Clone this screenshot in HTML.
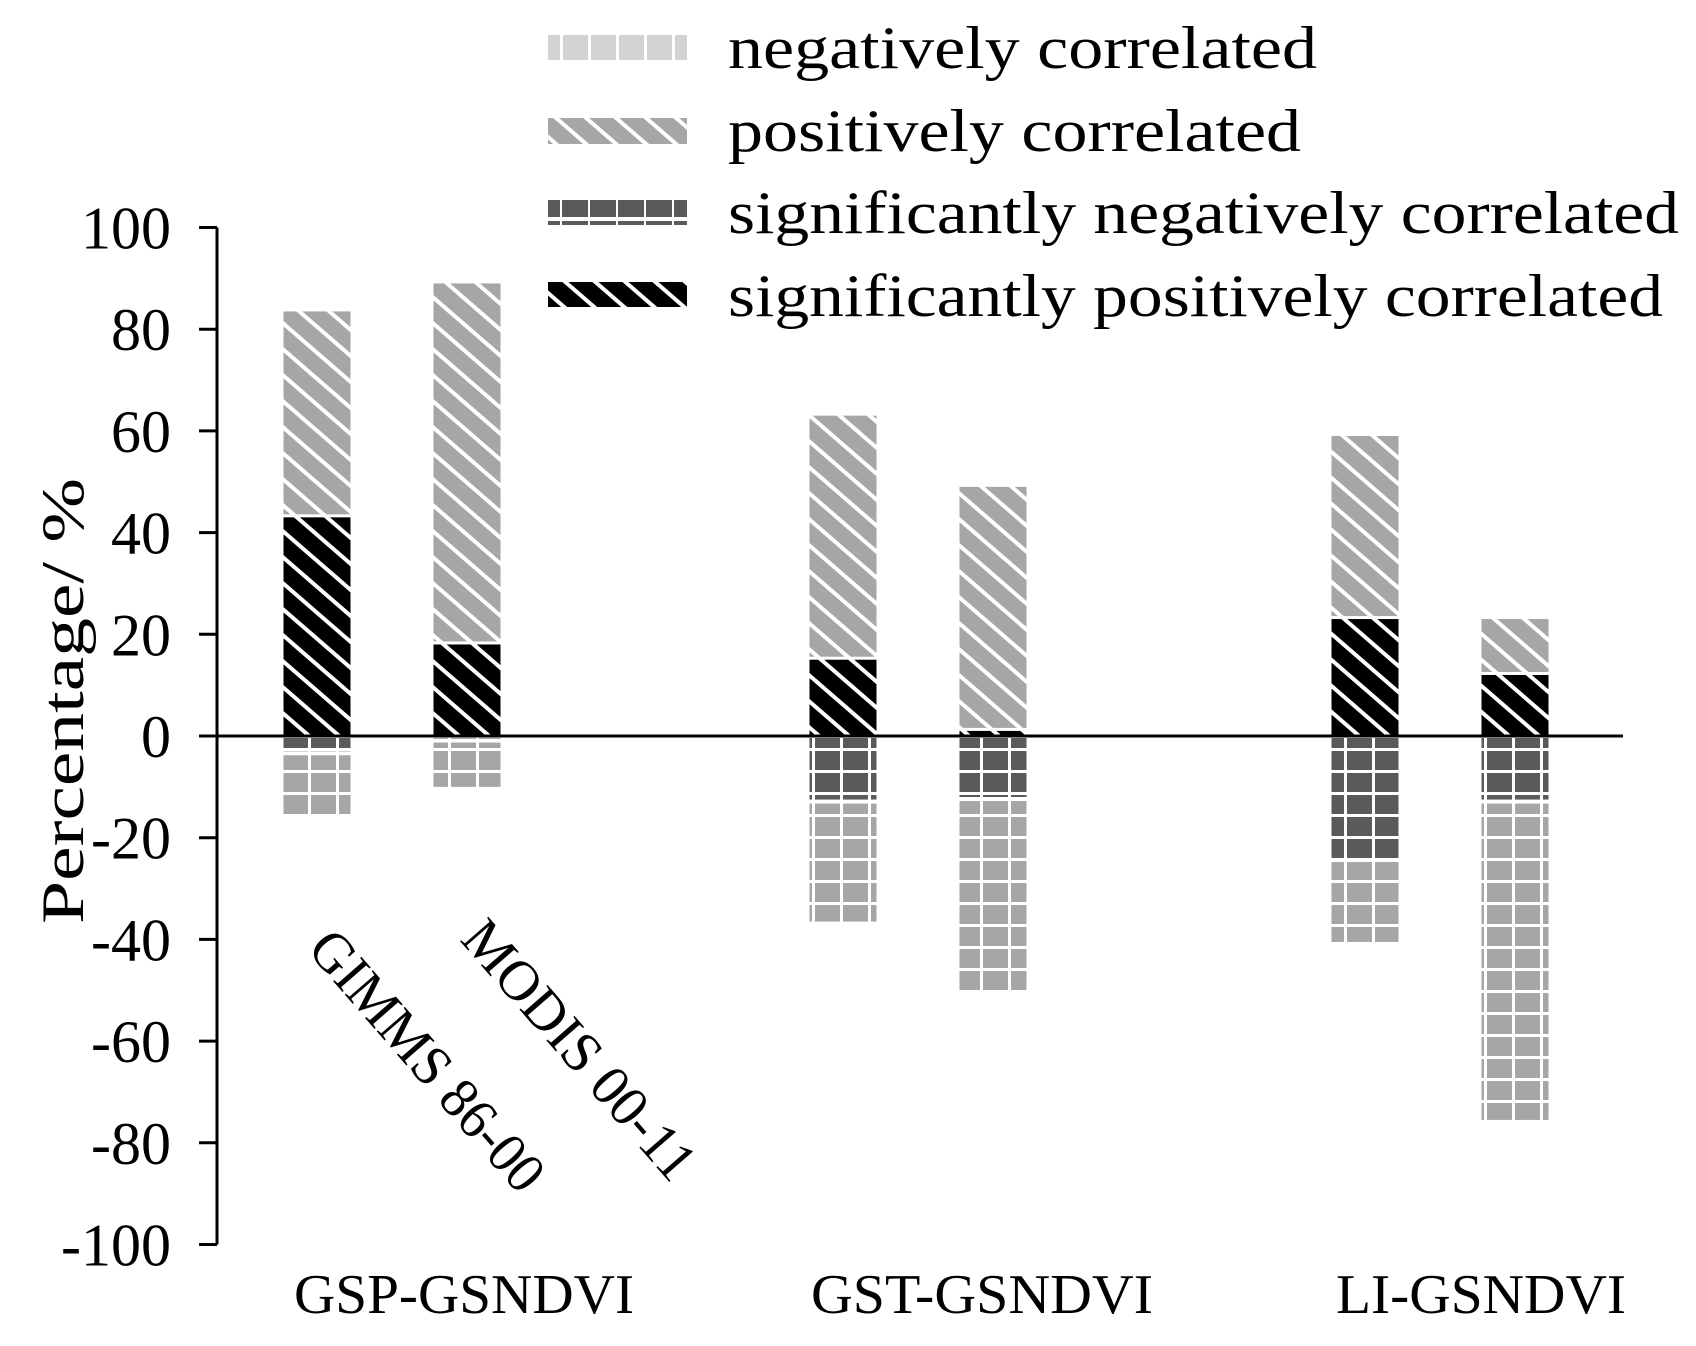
<!DOCTYPE html>
<html><head><meta charset="utf-8"><style>
html,body{margin:0;padding:0;background:#fff}
svg text{font-family:"Liberation Serif",serif;fill:#000}
</style></head><body>
<svg id="chart" width="1696" height="1341" viewBox="0 0 1696 1341" xmlns="http://www.w3.org/2000/svg">
<defs>
<pattern id="pPos" patternUnits="userSpaceOnUse" width="30" height="26">
<rect width="30" height="26" fill="#a6a6a6"/>
<path d="M-15,-13 L45,39 M-45,-13 L15,39 M15,-13 L75,39" stroke="#fff" stroke-width="4"/>
</pattern>
<pattern id="pSigPos" patternUnits="userSpaceOnUse" width="30" height="26">
<rect width="30" height="26" fill="#000"/>
<path d="M-15,-13 L45,39 M-45,-13 L15,39 M15,-13 L75,39" stroke="#fff" stroke-width="4"/>
</pattern>
<pattern id="pNeg" patternUnits="userSpaceOnUse" width="28" height="22">
<rect width="28" height="22" fill="#a6a6a6"/>
<path d="M0,0 V22 M0,0 H28" stroke="#fff" stroke-width="6"/>
</pattern>
<pattern id="pSigNeg" patternUnits="userSpaceOnUse" width="28" height="22">
<rect width="28" height="22" fill="#5a5a5a"/>
<path d="M0,0 V22 M0,0 H28" stroke="#fff" stroke-width="6"/>
</pattern>
<pattern id="pNegL" patternUnits="userSpaceOnUse" width="28" height="22">
<rect width="28" height="22" fill="#d3d3d3"/>
<path d="M0,0 V22" stroke="#fff" stroke-width="6"/>
</pattern>
<pattern id="pSigNegL" patternUnits="userSpaceOnUse" width="28" height="25">
<rect width="28" height="25" fill="#5a5a5a"/>
<path d="M0,0 V25 M0,19 H28" stroke="#fff" stroke-width="4"/>
</pattern>
</defs>
<g id="legend">
<rect x="548" y="35" width="139" height="25" fill="url(#pNegL)"/>
<text x="728" y="68" font-size="60" textLength="589" lengthAdjust="spacingAndGlyphs">negatively correlated</text>
<rect x="548" y="118" width="139" height="26" fill="url(#pPos)"/>
<text x="728" y="151" font-size="60" textLength="573" lengthAdjust="spacingAndGlyphs">positively correlated</text>
<rect x="548" y="200" width="139" height="25" fill="url(#pSigNegL)"/>
<text x="728" y="233" font-size="60" textLength="951" lengthAdjust="spacingAndGlyphs">significantly negatively correlated</text>
<rect x="548" y="282" width="139" height="25" fill="url(#pSigPos)"/>
<text x="728" y="316" font-size="60" textLength="935" lengthAdjust="spacingAndGlyphs">significantly positively correlated</text>
</g>
<g id="plot"></g>
</svg>
<script>
const groups = ["GSP-GSNDVI","GST-GSNDVI","LI-GSNDVI"];
const sources = ["GIMMS 86-00","MODIS 00-11"];
const yTicks = [100,80,60,40,20,0,-20,-40,-60,-80,-100];
// per bar order: GSP-GIMMS, GSP-MODIS, GST-GIMMS, GST-MODIS, LI-GIMMS, LI-MODIS
const sigPos = [43, 18, 15, 1, 23, 12];
const pos    = [40.5, 71, 48, 48, 36, 11];
const sigNeg = [3, 0.5, 12.5, 12, 24, 12.5];
const neg    = [12.5, 9.5, 24, 38.5, 16.5, 63];

const svgNS="http://www.w3.org/2000/svg";
const plot=document.getElementById('plot');
const axX=217, y0=736, pxPerUnit=5.085;
function y(v){return y0 - v*pxPerUnit;}
const groupCenters=[464,982,1481];
const groupStart=[317,843,1365];
const barW=67, barStep=150;
function barX(i){return groupStart[Math.floor(i/2)] + (i%2)*barStep - barW/2;}
function mk(tag,attrs){const e=document.createElementNS(svgNS,tag);for(const k in attrs)e.setAttribute(k,attrs[k]);plot.appendChild(e);return e;}

for(let i=0;i<sigPos.length;i++){
  const x=barX(i);
  let e=mk('rect',{x:x,y:y(sigPos[i]),width:barW,height:sigPos[i]*pxPerUnit,fill:'url(#pSigPos)'});
  
  
  e=mk('rect',{x:x,y:y(sigPos[i]+pos[i]),width:barW,height:pos[i]*pxPerUnit-3,fill:'url(#pPos)'});
  
  
  e=mk('rect',{x:x,y:y(0)+2,width:barW,height:Math.max(0,sigNeg[i]*pxPerUnit-2),fill:'url(#pSigNeg)'});
  
  
  e=mk('rect',{x:x,y:y(-sigNeg[i])+4,width:barW,height:Math.max(0,neg[i]*pxPerUnit-4),fill:'url(#pNeg)'});
  
  
}
let ax=mk('line',{x1:axX,y1:y(100),x2:axX,y2:y(-100),stroke:'#000','stroke-width':3});


let zl=mk('line',{x1:axX,y1:y0,x2:1623,y2:y0,stroke:'#000','stroke-width':3});


yTicks.forEach(t=>{
  const tk=mk('line',{x1:199,y1:y(t),x2:axX,y2:y(t),stroke:'#000','stroke-width':3});
  
  
  const tx=mk('text',{x:171,y:y(t)+21,'font-size':60,'text-anchor':'end'});
  tx.textContent=t;
  
  
});
let yt=mk('text',{x:0,y:0,'font-size':60,'text-anchor':'middle',textLength:446,lengthAdjust:'spacingAndGlyphs',transform:'translate(83,701) rotate(-90)'});
yt.textContent='Percentage/ %';


groups.forEach((g,i)=>{
  const t=mk('text',{x:groupCenters[i],y:1313,'font-size':56,'text-anchor':'middle',textLength:[340,342,290][i],lengthAdjust:'spacingAndGlyphs'});
  t.textContent=g;
  
  
});
const srcPos=[[306,950],[459,940]];
sources.forEach((s,i)=>{
  const t=mk('text',{x:0,y:0,'font-size':57,textLength:[326,324][i],lengthAdjust:'spacingAndGlyphs',transform:'translate('+srcPos[i][0]+','+srcPos[i][1]+') rotate(49)'});
  t.textContent=s;
  
  
});
</script>
</body></html>
